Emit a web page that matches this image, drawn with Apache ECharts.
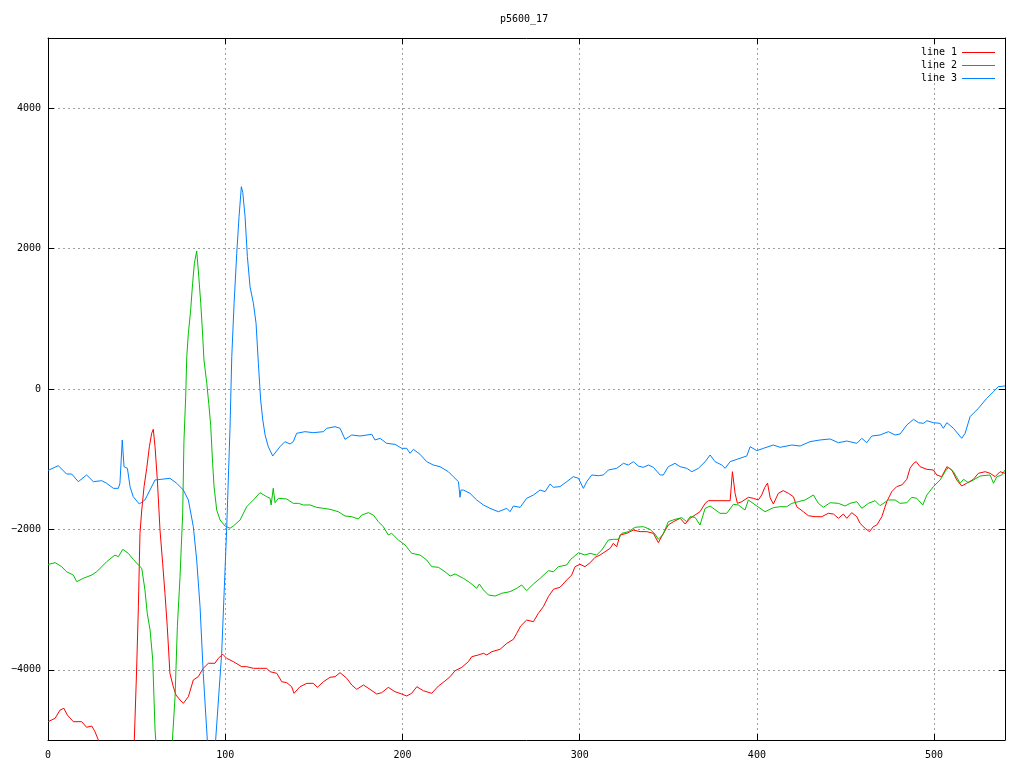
<!DOCTYPE html>
<html>
<head>
<meta charset="utf-8">
<script src="https://cdn.jsdelivr.net/npm/echarts@6/dist/echarts.min.js"></script>
<style>
html,body{margin:0;padding:0;background:#fff;}
#chart{width:1024px;height:768px;}
</style>
</head>
<body>
<div id="chart"></div>
<script>
var titleText = 'p5600_17';
var seriesNames = ['line 1', 'line 2', 'line 3'];
var xTicks = [0, 100, 200, 300, 400, 500];
var yTicks = [-4000, -2000, 0, 2000, 4000];

var line1X = [0,1.1,4,6.8,9,10.9,14.3,19,21.8,24.7,26.5,28.4,32,36,40,44,47,48.7,50,51,51.9,52.9,54.2,55.7,57.2,58.5,59.4,60.4,61.7,63.2,64.7,66,67.3,68.8,70.7,72.2,74.5,76.4,79.2,82,84.8,87.6,90.5,94.2,96.1,98.6,100.8,104.6,109.3,112.1,115.9,119.6,123.4,125.3,129.1,131.9,134.7,137.5,138.8,142.2,146,149.7,152,155.4,159.1,162,164.8,168.6,171.4,174.2,178,181.7,185.5,188.3,192,195.8,199.6,202.4,205.2,208.1,211.8,216.5,220.3,224,226.9,229.7,233.5,237.2,239.1,242.8,245.7,247.6,250.4,255.1,258.9,262.6,264.5,266.7,270.1,273.9,276.7,279.5,282.3,285.2,288.9,292.7,295.5,297.4,300.2,303,305.9,308.7,311.5,314.3,317.2,319,320.9,322.8,326.6,330.3,334.1,337.9,341.6,344.4,347.2,350,352.9,356.7,359.5,362.3,365.1,367.9,370.8,372.6,384.9,386.2,387.7,389,391.5,395.2,398,400.8,402.7,404.5,406,407.5,409.3,412.1,414.9,417.8,420.6,422.5,426.2,429.1,432.8,436.6,440.3,443.2,446,448.8,450.7,453.5,456.4,458.2,461.1,463.5,465.7,467.7,470.5,473.3,476.1,478.9,481.8,484.6,486.4,488.4,489.9,492.1,495.9,499.6,501.5,504.3,507.2,510,512.8,515.6,518.4,522.2,525,528.8,531.6,534.4,537.2,540];
var line1Y = [-4740,-4739,-4691,-4573,-4549,-4644,-4739,-4739,-4819,-4801,-4881,-5000,-5500,-6200,-6700,-6600,-5800,-5000,-4003,-3101,-2056,-1724,-1391,-1130,-822,-631,-574,-822,-1296,-2009,-2483,-2910,-3386,-4050,-4241,-4359,-4430,-4477,-4383,-4145,-4098,-3979,-3907,-3907,-3836,-3779,-3836,-3884,-3955,-3955,-3979,-3979,-3979,-4027,-4050,-4170,-4183,-4241,-4335,-4241,-4193,-4193,-4250,-4170,-4107,-4098,-4041,-4121,-4217,-4278,-4217,-4278,-4345,-4326,-4250,-4312,-4345,-4373,-4335,-4241,-4298,-4335,-4231,-4160,-4098,-4013,-3965,-3884,-3813,-3789,-3765,-3789,-3742,-3708,-3623,-3566,-3480,-3376,-3291,-3315,-3195,-3101,-2959,-2853,-2825,-2721,-2650,-2531,-2497,-2531,-2474,-2398,-2365,-2318,-2270,-2198,-2246,-2080,-2056,-2009,-2032,-2032,-2056,-2189,-2056,-1937,-1890,-1842,-1923,-1842,-1795,-1748,-1629,-1591,-1591,-1178,-1486,-1629,-1605,-1543,-1557,-1581,-1510,-1400,-1340,-1550,-1638,-1486,-1448,-1486,-1534,-1677,-1748,-1805,-1819,-1819,-1771,-1781,-1842,-1781,-1842,-1762,-1819,-1914,-1985,-2032,-1961,-1937,-1819,-1605,-1462,-1391,-1367,-1286,-1130,-1059,-1035,-1107,-1144,-1154,-1225,-1249,-1107,-1154,-1296,-1381,-1343,-1286,-1201,-1178,-1201,-1249,-1178,-1201];

var line2X = [0,1.1,4,7.7,10.5,14.3,16.2,19.9,24.7,27.5,33.1,37.8,39.7,42.2,45.3,48.1,51,52.9,54.7,56,57.6,59.1,60.4,60.8,63,66,68.5,70.2,71.7,73,74.5,76,76.7,77.7,78.3,79.2,80.5,81.6,82.6,83.9,84.8,86.2,87.1,88,89.6,90.7,91.8,92.9,93.7,95.2,97.1,99.9,102.7,104.6,108.4,112.1,115.9,119.6,123.4,125.3,125.9,127.1,128.1,130,134.7,138.4,141.3,144.1,147.9,151.6,155.4,159.1,163.8,167.6,171.4,175.1,177,180.8,183.6,186.4,189.2,192,193.9,197.7,201.5,205.2,209.9,213.7,216.5,220.3,224,226.9,229.7,234.4,238.1,241.9,243.4,245.7,248.5,252.3,256,260.7,264.5,267.3,270.1,273.9,277.7,282.3,285.2,288,292.7,294.6,299.3,303,305.9,309.6,312.5,316.2,319,321.8,323.8,327.5,331.3,335.9,339.7,342.5,344.4,347.2,350,353.8,357.6,360.4,362.3,365.1,367.9,370.8,373.6,379.2,383,386.7,389.5,393.3,395.2,400,404.6,409.3,413.1,416.8,419.7,423.4,427.2,431.9,434.7,437.5,441.3,446,449.8,452.6,456.4,459.2,462.9,466.7,469.5,474.2,478,480.8,484.6,487.4,490.2,493.6,495.9,499.6,503.4,506.2,508.1,510.9,514.7,516.6,519.3,522.2,526,531.6,533.5,535.4,538.2,540];
var line2Y = [-2500,-2497,-2474,-2531,-2603,-2650,-2745,-2697,-2650,-2603,-2460,-2365,-2389,-2284,-2341,-2426,-2507,-2554,-2863,-3195,-3433,-3860,-4857,-5000,-5800,-6200,-5800,-5000,-4383,-3386,-2674,-1771,-750,-109,460,793,1125,1506,1790,1966,1695,1221,840,413,81,-204,-520,-1058,-1391,-1724,-1866,-1952,-1984,-1952,-1866,-1677,-1581,-1477,-1534,-1557,-1652,-1415,-1620,-1557,-1567,-1629,-1629,-1652,-1652,-1686,-1700,-1714,-1748,-1809,-1819,-1852,-1795,-1762,-1795,-1890,-1961,-2080,-2056,-2151,-2222,-2341,-2365,-2436,-2531,-2540,-2603,-2664,-2635,-2697,-2759,-2839,-2778,-2863,-2934,-2949,-2910,-2887,-2839,-2792,-2873,-2778,-2697,-2588,-2603,-2531,-2507,-2436,-2332,-2365,-2341,-2365,-2293,-2151,-2141,-2141,-2056,-2032,-1970,-1961,-1999,-2066,-2141,-2066,-1890,-1857,-1833,-1890,-1819,-1828,-1938,-1700,-1667,-1771,-1771,-1643,-1652,-1724,-1581,-1667,-1748,-1690,-1677,-1677,-1629,-1605,-1581,-1510,-1629,-1686,-1620,-1629,-1667,-1629,-1605,-1700,-1629,-1591,-1662,-1581,-1581,-1629,-1620,-1543,-1557,-1652,-1510,-1391,-1296,-1178,-1116,-1178,-1343,-1286,-1334,-1296,-1239,-1225,-1343,-1249,-1225,-1154];

var line3X = [0,1.1,5.8,10.5,13.4,17.1,21.8,25.6,30.3,33.1,36.9,39.7,40.6,41.9,42.9,44.8,46.3,48.1,51.5,54.7,60.4,64.2,68.8,72.6,76.4,79.2,82,83.9,85.8,87.6,89.9,92,94.6,98,99.9,100.8,102.7,103.7,105,106.5,107.8,109.1,109.9,111.2,112.5,114,115.9,117.4,118.7,120,121.2,122.5,124.3,126.8,130.9,133.7,136.6,138.4,140.3,145,149.7,155.4,157.3,162,164.8,167.6,171.4,176.1,182.7,184.5,187.4,191.1,195.8,199.6,202.4,204.3,206.2,209.9,213.7,217.4,221.2,225.9,228.7,231.6,232.5,233,234.4,238.1,241.9,245.7,249.4,254.1,258.9,260.7,262.6,266.4,270.1,273.9,277.7,280.5,283.3,285.2,288.9,292.7,296.4,299.3,302.1,304,306.8,310.6,313.4,316.2,320.9,324.7,327.5,330.3,333.1,335.9,338.8,341.6,345.4,347.2,350,353.8,356.7,360.4,363.3,367,370.8,373.6,376.4,380.2,382.1,384.9,388.7,394.3,396.2,400,403.7,409.3,413.1,419.7,424.4,430,435.7,441.3,446,450.7,456.4,459.2,462,464.8,469.5,474.2,478,480.8,484.6,488.4,491.2,494,495.9,499.6,503.4,505.2,507.2,510.9,515.6,517.5,520.3,525,529.7,533.5,536.2,540];
var line3Y = [-1160,-1154,-1092,-1211,-1211,-1320,-1225,-1320,-1306,-1343,-1415,-1415,-1343,-726,-1107,-1130,-1391,-1534,-1638,-1581,-1296,-1286,-1272,-1343,-1439,-1581,-1961,-2436,-3101,-4050,-5000,-5900,-5000,-3765,-2578,-2009,-560,460,1221,1933,2454,2882,2800,2454,1885,1457,1221,936,366,-157,-441,-655,-822,-954,-822,-750,-783,-750,-631,-608,-622,-608,-560,-537,-560,-717,-655,-670,-645,-726,-703,-774,-788,-845,-845,-916,-859,-930,-1035,-1083,-1107,-1178,-1249,-1320,-1543,-1440,-1439,-1486,-1581,-1652,-1700,-1748,-1700,-1748,-1667,-1686,-1557,-1510,-1439,-1462,-1353,-1400,-1391,-1320,-1249,-1272,-1415,-1320,-1225,-1235,-1225,-1154,-1130,-1059,-1083,-1035,-1097,-1116,-1083,-1116,-1225,-1225,-1107,-1059,-1107,-1130,-1178,-1130,-1035,-940,-1035,-1083,-1130,-1035,-1002,-954,-822,-878,-845,-798,-831,-798,-812,-750,-726,-712,-765,-741,-774,-703,-765,-670,-655,-608,-655,-641,-513,-432,-480,-489,-452,-480,-489,-560,-480,-560,-703,-631,-394,-275,-133,-38,33,43];

function zip(xs, ys) { return xs.map(function (x, i) { return [x, ys[i]]; }); }

var FONT = 'DejaVu Sans Mono';
var colors = ['#ff0000', '#00c000', '#0080ff'];
var gridLine = { show: true, lineStyle: { color: '#a0a0a0', width: 1, type: [2, 3] } };

var chart = echarts.init(document.getElementById('chart'), null, { renderer: 'canvas' });
chart.setOption({
  animation: false,
  backgroundColor: '#ffffff',
  color: colors,
  title: {
    text: titleText, left: 500, top: 13, padding: 0,
    textStyle: { fontFamily: FONT, fontSize: 10, fontWeight: 'normal', color: '#000', lineHeight: 12 }
  },
  legend: {
    orient: 'vertical', right: 29, top: 47, align: 'right', padding: 0,
    icon: 'rect', itemWidth: 33, itemHeight: 1, itemGap: 2,
    textStyle: { fontFamily: FONT, fontSize: 10, color: '#000', lineHeight: 11 },
    data: seriesNames.map(function (n, i) { return { name: n, itemStyle: { color: colors[i], opacity: 1 } }; })
  },
  grid: { left: 48, right: 19, top: 38, bottom: 28 },
  xAxis: [{
    type: 'value', min: 0, max: 540, position: 'bottom',
    axisLine: { show: true, onZero: false, lineStyle: { color: '#000', width: 1 } },
    axisTick: { show: true, inside: true, length: 6, customValues: xTicks, lineStyle: { color: '#000' } },
    axisLabel: { show: true, customValues: xTicks, margin: 10, fontFamily: FONT, fontSize: 10, color: '#000' },
    splitLine: gridLine
  }, {
    type: 'value', min: 0, max: 540, position: 'top',
    axisLine: { show: true, onZero: false, lineStyle: { color: '#000', width: 1 } },
    axisTick: { show: true, inside: true, length: 6, customValues: xTicks, lineStyle: { color: '#000' } },
    axisLabel: { show: false },
    splitLine: { show: false }
  }],
  yAxis: [{
    type: 'value', min: -5000, max: 5000, position: 'left',
    axisLine: { show: true, onZero: false, lineStyle: { color: '#000', width: 1 } },
    axisTick: { show: true, inside: true, length: 6, customValues: yTicks, lineStyle: { color: '#000' } },
    axisLabel: { show: true, customValues: yTicks, margin: 7, fontFamily: FONT, fontSize: 10, color: '#000',
      formatter: function (v) { return String(v).replace('-', '\u2212'); } },
    splitLine: gridLine
  }, {
    type: 'value', min: -5000, max: 5000, position: 'right',
    axisLine: { show: true, onZero: false, lineStyle: { color: '#000', width: 1 } },
    axisTick: { show: true, inside: true, length: 6, customValues: yTicks, lineStyle: { color: '#000' } },
    axisLabel: { show: false },
    splitLine: { show: false }
  }],
  series: [
    { name: seriesNames[0], type: 'line', data: zip(line1X, line1Y), symbol: 'none', clip: true, lineStyle: { width: 1, color: colors[0] }, itemStyle: { color: colors[0] } },
    { name: seriesNames[1], type: 'line', data: zip(line2X, line2Y), symbol: 'none', clip: true, lineStyle: { width: 1, color: colors[1] }, itemStyle: { color: colors[1] } },
    { name: seriesNames[2], type: 'line', data: zip(line3X, line3Y), symbol: 'none', clip: true, lineStyle: { width: 1, color: colors[2] }, itemStyle: { color: colors[2] } }
  ]
});
</script>
</body>
</html>
